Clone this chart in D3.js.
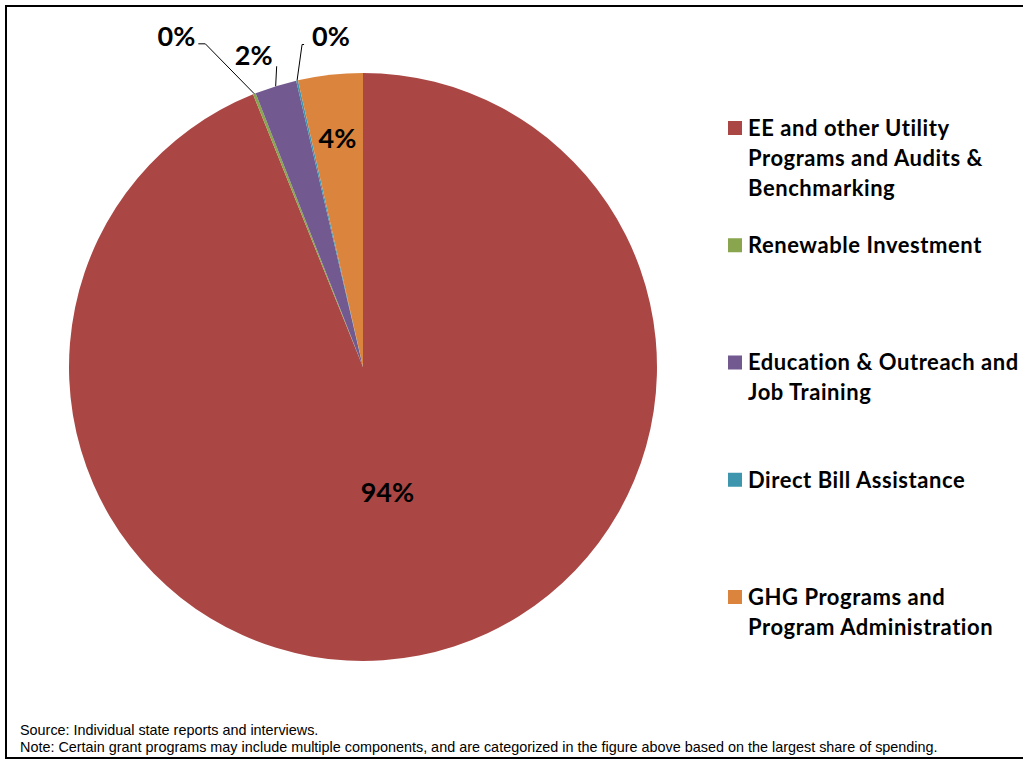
<!DOCTYPE html>
<html lang="en">
<head>
    <meta charset="UTF-8">
    <title>Spending by category</title>
    <script src="https://cdn.jsdelivr.net/npm/d3@7/dist/d3.min.js"></script>
    <style>
        body { margin: 0; background: #fff; }
        text { font-family: Lato, "Open Sans", sans-serif; }
        .pct { font-weight: bold; font-size: 27px; fill: #000; }
        .legend text { font-weight: bold; font-size: 22px; letter-spacing: 0.55px; fill: #000; }
        .note { font-family: "Liberation Sans", sans-serif; font-size: 14.4px; fill: #000; }
        .leader { fill: none; stroke: #000; stroke-width: 1px; }
    </style>
</head>
<body>
    <svg width=1023 height=760></svg>
    <script>
        var categories = ['EE and other Utility Programs and Audits & Benchmarking', 'Renewable Investment',
                          'Education & Outreach and Job Training', 'Direct Bill Assistance',
                          'GHG Programs and Program Administration'];
        var legendLines = [['EE and other Utility', 'Programs and Audits &', 'Benchmarking'],
                           ['Renewable Investment'],
                           ['Education & Outreach and', 'Job Training'],
                           ['Direct Bill Assistance'],
                           ['GHG Programs and', 'Program Administration']];
        var shares = [93.9, 0.15, 2.3, 0.1, 3.55];
        var colors = ['#AA4744', '#89A54E', '#72598F', '#3D96AE', '#DB843D'];
        var notes = ['Source: Individual state reports and interviews.',
                     'Note: Certain grant programs may include multiple components, and are categorized in the figure above based on the largest share of spending.'];

        // leader line elbows for the small slices (offset from the arc edge), null = label inside
        var leaders = [null, {dx: -49, dy: -50, tail: -7}, {dx: 1, dy: -20, tail: 0}, {dx: 5, dy: -36, tail: 2}, null];

        var svg = d3.select('svg'),
            cx = 363, cy = 367, radius = 294;

        svg.append('rect')
            .attr('x', 6).attr('y', 6)
            .attr('width', 1030).attr('height', 752)
            .attr('fill', 'none').attr('stroke', '#000').attr('stroke-width', 2);

        var pie = d3.pie().sort(null).value(function(d) { return d; }),
            arcs = pie(shares),
            arc = d3.arc().innerRadius(0).outerRadius(radius),
            edge = d3.arc().innerRadius(radius).outerRadius(radius),
            inner = d3.arc().innerRadius(128).outerRadius(128),
            mid = d3.arc().innerRadius(230).outerRadius(230),
            fmt = function(v) { return Math.round(v) + '%'; };

        var pieG = svg.append('g').attr('transform', 'translate(' + [cx, cy] + ')');

        pieG.selectAll('path.slice')
            .data(arcs)
            .enter().append('path')
            .classed('slice', true)
            .attr('d', arc)
            .attr('fill', function(d, i) { return colors[i]; });

        arcs.forEach(function(d, i) {
            var lead = leaders[i];
            if (!lead) {
                var p = (i === 0 ? inner : mid).centroid(d);
                pieG.append('text').classed('pct', true)
                    .attr('x', p[0]).attr('y', p[1])
                    .attr('text-anchor', 'middle').attr('dy', '0.36em')
                    .text(fmt(shares[i]));
                return;
            }
            var a = edge.centroid(d),
                b = [a[0] + lead.dx, a[1] + lead.dy],
                c = [b[0] + lead.tail, b[1]];
            pieG.append('path').classed('leader', true)
                .attr('d', d3.line()([a, b, c]));
            var t = pieG.append('text').classed('pct', true).text(fmt(shares[i])).attr('dy', '0.36em');
            if (lead.tail < 0) {
                t.attr('x', c[0] - 3).attr('y', c[1] - 8).attr('text-anchor', 'end');
            } else if (lead.tail > 0) {
                t.attr('x', c[0] + 8).attr('y', c[1] - 8).attr('text-anchor', 'start');
            } else {
                t.attr('x', c[0] - 23).attr('y', c[1] - 11).attr('text-anchor', 'middle');
            }
        });

        var legendY = d3.scalePoint().domain(d3.range(categories.length)).range([128, 597]);

        var legend = svg.append('g').classed('legend', true)
            .selectAll('g')
            .data(categories)
            .enter().append('g')
            .attr('transform', function(d, i) { return 'translate(' + [728, legendY(i)] + ')'; });

        legend.append('rect')
            .attr('x', 0).attr('y', -7)
            .attr('width', 14).attr('height', 14)
            .attr('fill', function(d, i) { return colors[i]; });

        legend.append('text')
            .attr('x', 20)
            .selectAll('tspan')
            .data(function(d, i) { return legendLines[i]; })
            .enter().append('tspan')
            .attr('x', 20)
            .attr('y', function(d, j) { return j * 30; })
            .attr('dy', '0.36em')
            .text(function(d) { return d; });

        svg.selectAll('text.note')
            .data(notes)
            .enter().append('text')
            .classed('note', true)
            .attr('x', 20)
            .attr('y', function(d, i) { return 735 + i * 17; })
            .text(function(d) { return d; });
    </script>
</body>
</html>
